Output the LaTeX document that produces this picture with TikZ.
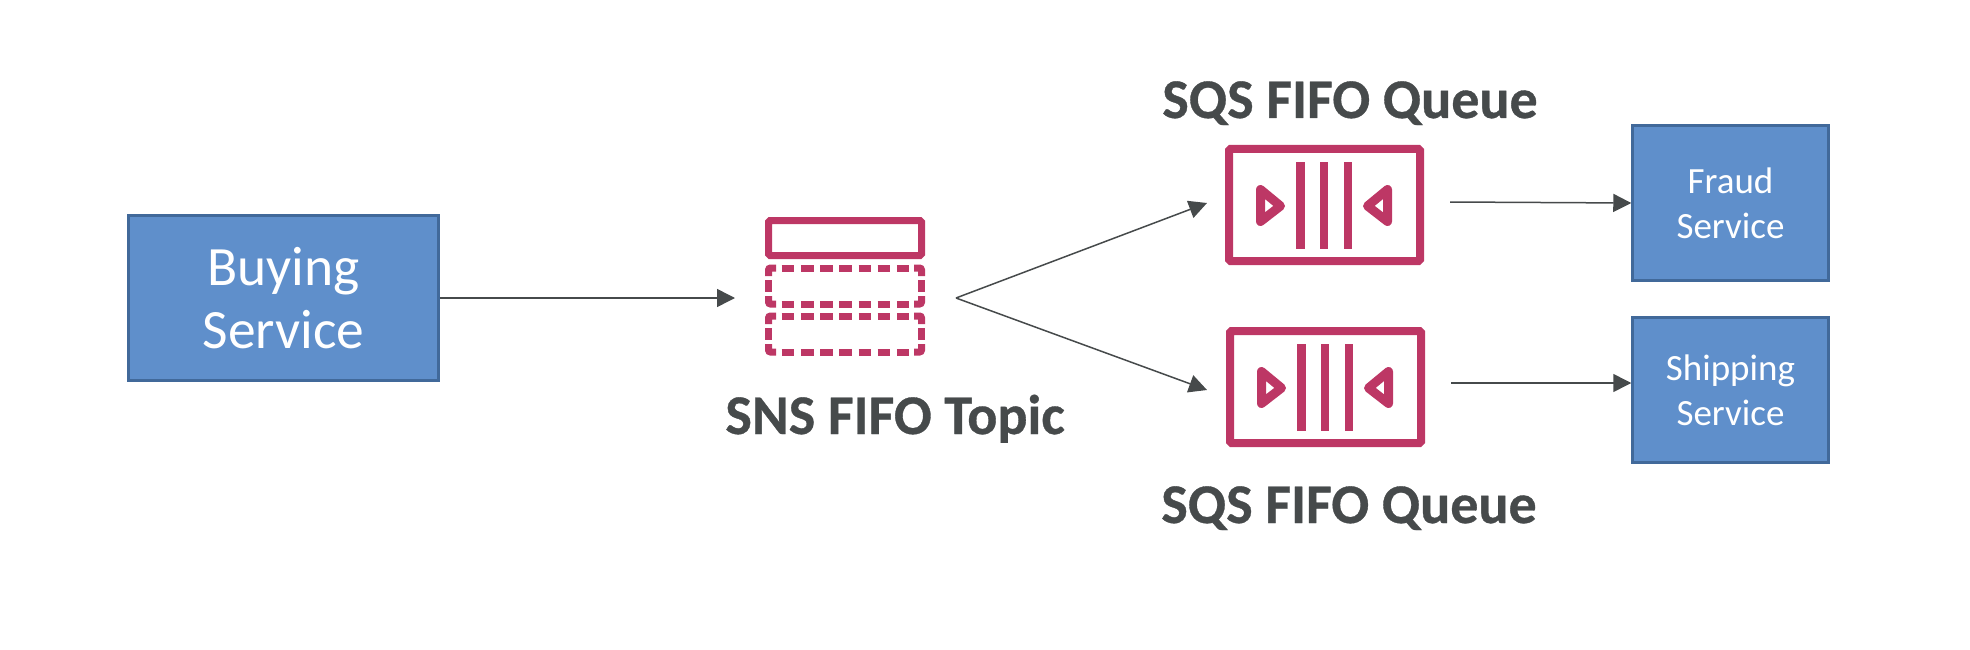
\documentclass[tikz,border=0pt]{standalone}
\usepackage{fontspec}
\setmainfont[BoldFeatures={FakeBold=0.6}]{Carlito}
\usetikzlibrary{arrows.meta}
\definecolor{boxfill}{HTML}{5F8FCB}
\definecolor{boxline}{HTML}{41699A}
\definecolor{pinkicon}{HTML}{BD3765}
\definecolor{darktext}{HTML}{464A4B}
\tikzset{
  svcbox/.style={draw=boxline,line width=2.5pt,fill=boxfill,text=white,align=center,inner sep=0pt,minimum width=#1},
  link/.style={draw=darktext,line width=1.5pt,-{Triangle[length=18pt,width=18pt,fill=darktext]},shorten >=0pt},
  iconline/.style={draw=pinkicon,line width=7pt},
  queueline/.style={draw=pinkicon,line width=8pt},
  triline/.style={draw=pinkicon,line width=9pt,line join=round},
  caption/.style={text=darktext,font=\fontsize{56}{60}\selectfont\bfseries,anchor=base,inner sep=0pt},
}
\newcommand{\dashrow}[2]{%
  \draw[iconline,dash pattern=on 12.7pt off 6.5pt] (781.7,#1) -- (909.4,#1);
  \draw[iconline,dash pattern=on 12.7pt off 6.5pt] (781.7,#2) -- (909.4,#2);
  \draw[iconline,rounded corners=2pt] (776,#1) -- (768.5,#1) -- ++(0,8);
  \draw[iconline,rounded corners=2pt] (914,#1) -- (921.5,#1) -- ++(0,8);
  \draw[iconline,rounded corners=2pt] (776,#2) -- (768.5,#2) -- ++(0,-8);
  \draw[iconline,rounded corners=2pt] (914,#2) -- (921.5,#2) -- ++(0,-8);
  \draw[iconline] (768.5,{(#1+#2)/2-6}) -- ++(0,12);
  \draw[iconline] (921.5,{(#1+#2)/2-6}) -- ++(0,12);
}
\newcommand{\queueicon}[3]{% name, left x, top y
  \node[queueline,rounded corners=1.5pt,outer sep=0pt,minimum width=191pt,minimum height=112pt,inner sep=0pt,anchor=north west] (#1) at (#2+4,#3+4) {};
  \begin{scope}[shift={(#2,#3)}]
    \fill[pinkicon] (70.5,17) rectangle ++(9,87);
    \fill[pinkicon] (94.5,17) rectangle ++(8.5,87);
    \fill[pinkicon] (118.5,17) rectangle ++(8.5,87);
    \draw[triline] (35.5,44.5) -- (55.5,61) -- (35.5,76.5) -- cycle;
    \draw[triline] (162.5,44.5) -- (142.5,61) -- (162.5,76.5) -- cycle;
  \end{scope}
}
\begin{document}
\begin{tikzpicture}[x=1pt,y=-1pt]
\useasboundingbox (0,0) rectangle (1970,650);
\node[svcbox=310pt,minimum height=165pt,font=\fontsize{55.5}{63}\selectfont] (buying) at (283.5,298) {Buying\\Service};
\node[svcbox=196pt,minimum height=155pt,font=\fontsize{37}{45}\selectfont] (fraud) at (1730.5,203) {Fraud\\Service};
\node[svcbox=196pt,minimum height=145pt,font=\fontsize{37}{45}\selectfont] (shipping) at (1730.5,390) {Shipping\\Service};

\node[iconline,rounded corners=1.5pt,outer sep=0pt,minimum width=153pt,minimum height=35pt,inner sep=0pt,anchor=north west] (topic) at (768.5,220.5) {};
\dashrow{268}{304}
\dashrow{316}{352}

\queueicon{queueA}{1225}{145}
\queueicon{queueB}{1226}{327}

\node[caption] (topiclabel) at (895,434) {SNS FIFO Topic};
\node[caption] (labelA) at (1350,118) {SQS FIFO Queue};
\node[caption] (labelB) at (1349,523) {SQS FIFO Queue};

\coordinate (topicin) at (735,298);
\coordinate (topicout) at (956,298);
\coordinate (qAin) at (1207,203);
\coordinate (qBin) at (1207,390);
\coordinate (qAout) at (1450,202);
\coordinate (qBout) at (1451,383);

\draw[link] (buying.east) -- (topicin);
\draw[link] (topicout) -- (qAin);
\draw[link] (topicout) -- (qBin);
\draw[link] (qAout) -- (fraud.west);
\draw[link] (qBout) -- (qBout -| shipping.west);
\end{tikzpicture}
\end{document}
